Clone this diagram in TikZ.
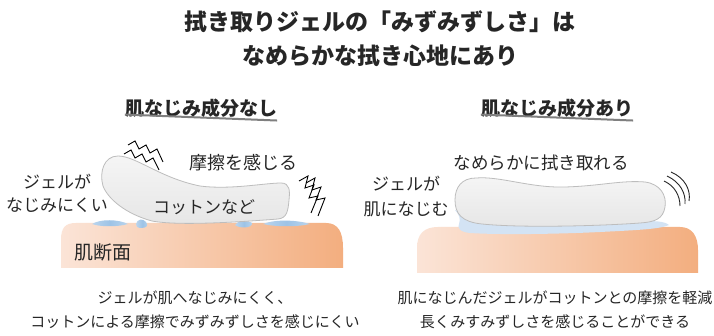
\documentclass[tikz,border=0pt]{standalone}
\usepackage{fontspec}
\setmainfont{Noto Sans CJK JP}
\definecolor{ink}{HTML}{262626}
\definecolor{rule}{HTML}{7F7F7F}
\definecolor{skinL}{HTML}{FBE4D7}
\definecolor{skinR}{HTML}{F3AE7F}
\definecolor{cottonT}{HTML}{F5F5F5}
\definecolor{cottonB}{HTML}{E6E6E6}
\definecolor{cottonEdge}{HTML}{BDBDBD}
\definecolor{gelLight}{HTML}{D3E3F4}
\definecolor{gelMid}{HTML}{9DC3E6}
\begin{document}
\begin{tikzpicture}[x=1pt,y=-1pt,
  txt/.style={inner sep=0pt, text=ink, font=\fontsize{17}{20}\selectfont},
  titletxt/.style={inner sep=0pt, text=ink, font=\fontsize{23}{26}\selectfont\bfseries},
  headtxt/.style={inner sep=0pt, text=ink, font=\fontsize{19}{22}\selectfont\bfseries},
  captxt/.style={inner sep=0pt, text=ink, font=\fontsize{15}{18}\selectfont},
  headrule/.style={draw=rule, line width=2pt},
  skin/.style={left color=skinL, right color=skinR, draw=none},
  cotton/.style={top color=cottonT, bottom color=cottonB, draw=cottonEdge, line width=0.8pt},
  drop/.style={left color=gelMid!70!white, right color=gelMid!70!white, middle color=gelMid, draw=none},
  gelfilm/.style={left color=gelLight, middle color=gelMid, right color=gelLight, draw=none},
  jolt/.style={draw=black, line width=0.9pt, line join=miter},
  wave/.style={draw=ink, line width=0.9pt}]
\useasboundingbox (0,0) rectangle (714,336);
\fill[white] (0,0) rectangle (714,336);

% ---- title ----
\node[titletxt] (title1) at (380,22) {拭き取りジェルの「みずみずしさ」は};
\node[titletxt] (title2) at (380,56) {なめらかな拭き心地にあり};

% ---- headings ----
\node[headtxt] (headL) at (201,108) {肌なじみ成分なし};
\draw[headrule] (headL.south west) ++(0,-3) -- ([yshift=-3pt]headL.south east);
\node[headtxt] (headR) at (557,108) {肌なじみ成分あり};
\draw[headrule] (headR.south west) ++(0,-3) -- ([yshift=-3pt]headR.south east);

% ================= left panel =================
% skin cross-section
\path[skin] (61,268) -- (61,240) .. controls (61,228) and (65,223) .. (76,223)
  -- (326,223) .. controls (338,223) and (343,232) .. (343,248) -- (343,268) -- cycle;

% gel droplets that do not spread
\path[drop] (92,224) .. controls (100,219) and (118,219) .. (128,224)
  .. controls (118,227) and (100,227) .. (92,224) -- cycle;
\path[drop] (136,224) .. controls (137,219) and (143,218) .. (146,222)
  .. controls (149,226) and (146,228) .. (141,228) .. controls (137,228) and (136,226) .. (136,224) -- cycle;
\path[drop] (235,225) .. controls (237,220) and (248,220) .. (252,223)
  .. controls (253,228) and (240,229) .. (235,225) -- cycle;
\path[drop] (263,224) .. controls (275,219) and (298,220) .. (310,224)
  .. controls (298,227) and (275,227) .. (263,224) -- cycle;

% bent cotton pad
\path[cotton] (118,156) .. controls (136,156) and (160,178) .. (200,186)
  .. controls (230,190) and (265,183) .. (281,183)
  .. controls (290,183) and (290,191) .. (289,200)
  .. controls (288,211) and (287,218) .. (278,219)
  .. controls (240,222) and (178,226) .. (152,221)
  .. controls (126,214) and (108,199) .. (103,186)
  .. controls (99,172) and (104,156) .. (118,156) -- cycle;

% friction jolts
\draw[jolt] (128,145) -- (135,141) -- (139,149) -- (146,145) -- (150,153) -- (157,149) -- (163,162);
\draw[jolt] (124,154) -- (131,150) -- (135,158) -- (142,154) -- (146,162) -- (153,158) -- (159,170);
\draw[jolt] (299,181) -- (308,176) -- (305,188) -- (314,185) -- (309,198) -- (318,196) -- (311,213);
\draw[jolt] (306,183) -- (315,178) -- (312,190) -- (321,187) -- (316,200) -- (325,198) -- (318,216);

\node[txt] (gelL1) at (57,182) {ジェルが};
\node[txt] (gelL2) at (57,205) {なじみにくい};
\node[txt, font=\fontsize{18}{21}\selectfont] (fricL) at (243,163) {摩擦を感じる};
\node[txt] (cotL) at (204,207) {コットンなど};
\node[txt, font=\fontsize{19}{22}\selectfont] (skinLbl) at (103,252) {肌断面};

% ================= right panel =================
\path[skin] (417,273) -- (417,248) .. controls (417,234) and (424,227) .. (438,227)
  -- (680,227) .. controls (692,227) and (698,236) .. (698,250) -- (698,273) -- cycle;

% gel film spread between pad and skin
\path[gelfilm] (455,210) .. controls (462,213) and (470,219) .. (492,221)
  -- (640,221) .. controls (655,221) and (664,221) .. (669,225)
  .. controls (660,229) and (640,230) .. (600,232)
  .. controls (560,234) and (500,235) .. (470,233)
  .. controls (460,232) and (457,228) .. (459,224)
  .. controls (461,219) and (459,214) .. (455,210) -- cycle;

% flat cotton pad
\path[cotton] (476,178) .. controls (500,176) and (530,188) .. (565,187)
  .. controls (600,186) and (622,180) .. (645,182)
  .. controls (660,184) and (667,195) .. (665,207)
  .. controls (663,219) and (655,222) .. (640,223)
  .. controls (600,226) and (520,228) .. (482,224)
  .. controls (462,222) and (455,214) .. (455,200)
  .. controls (455,187) and (462,178) .. (476,178) -- cycle;

% gliding motion marks
\draw[wave] (664,181) .. controls (675,186) and (680,196) .. (680,206);
\draw[wave] (667,176) .. controls (680,182) and (686,193) .. (685,204);
\draw[wave] (671,172) .. controls (685,178) and (691,190) .. (689,201);

\node[txt, font=\fontsize{17.5}{20}\selectfont] (smooth) at (541,163) {なめらかに拭き取れる};
\node[txt] (gelR1) at (406,184) {ジェルが};
\node[txt] (gelR2) at (406,209) {肌になじむ};

% ---- captions ----
\node[captxt] (capL1) at (195,298) {ジェルが肌へなじみにくく、};
\node[captxt] (capL2) at (195,322) {コットンによる摩擦でみずみずしさを感じにくい};
\node[captxt] (capR1) at (555,298) {肌になじんだジェルがコットンとの摩擦を軽減};
\node[captxt] (capR2) at (555,322) {長くみすみずしさを感じることができる};
\end{tikzpicture}
\end{document}
